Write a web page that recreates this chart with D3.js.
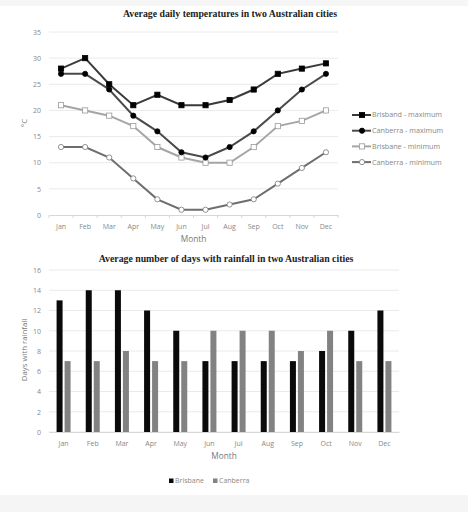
<!DOCTYPE html>
<html lang="en">
<head>
<meta charset="UTF-8">
<title>Australian cities</title>
<style>
    body { margin: 0; background: #fff; }
    text { font-family: 'Open Sans', sans-serif; fill: #777; }
    .title { font-family: 'Liberation Serif', serif; font-weight: bold; font-size: 9.8px; fill: #222; }
    .grid line { stroke: #e4e4e4; stroke-width: 0.8px; }
    .tick text { font-size: 7px; fill: #888; }
</style>
</head>
<body>
<script src="https://d3js.org/d3.v7.min.js"></script>
<script>

const months = ['Jan', 'Feb', 'Mar', 'Apr', 'May', 'Jun', 'Jul', 'Aug', 'Sep', 'Oct', 'Nov', 'Dec'];

const brisbaneMax = [28, 30, 25, 21, 23, 21, 21, 22, 24, 27, 28, 29];
const canberraMax = [27, 27, 24, 19, 16, 12, 11, 13, 16, 20, 24, 27];
const brisbaneMin = [21, 20, 19, 17, 13, 11, 10, 10, 13, 17, 18, 20];
const canberraMin = [13, 13, 11, 7, 3, 1, 1, 2, 3, 6, 9, 12];
const tempTicks = [0, 5, 10, 15, 20, 25, 30, 35];

const brisbaneRain = [13, 14, 14, 12, 10, 7, 7, 7, 7, 8, 10, 12];
const canberraRain = [7, 7, 8, 7, 7, 10, 10, 10, 8, 10, 7, 7];
const rainTicks = [0, 2, 4, 6, 8, 10, 12, 14, 16];

const lineSeries = [
    {name: 'Brisband - maximum', values: brisbaneMax, line: '#3a3a3a', fill: '#000', stroke: '#000', shape: 'square'},
    {name: 'Canberra - maximum', values: canberraMax, line: '#4a4a4a', fill: '#000', stroke: '#000', shape: 'circle'},
    {name: 'Brisbane - minimum', values: brisbaneMin, line: '#a5a5a5', fill: '#fff', stroke: '#999', shape: 'square'},
    {name: 'Canberra - minimum', values: canberraMin, line: '#6e6e6e', fill: '#fff', stroke: '#777', shape: 'circle'}
];
const barSeries = [
    {name: 'Brisbane', values: brisbaneRain, color: '#0a0a0a'},
    {name: 'Canberra', values: canberraRain, color: '#828282'}
];

const svg = d3.select('body').append('svg')
    .attr('width', 468)
    .attr('height', 512);

// faint grey edges of the scan
svg.append('rect').attr('x', 0).attr('y', 0).attr('width', 468).attr('height', 6).style('fill', '#f6f6f6');
svg.append('rect').attr('x', 0).attr('y', 495).attr('width', 468).attr('height', 17).style('fill', '#f5f5f5');

// ---------- temperature line chart ----------
const tempBox = {left: 49, right: 338, top: 32, bottom: 215};

const x1 = d3.scaleBand().domain(months).range([tempBox.left, tempBox.right]);
const y1 = d3.scaleLinear().domain([0, 35]).range([tempBox.bottom, tempBox.top]);

svg.append('text').attr('class', 'title')
    .attr('x', 230).attr('y', 17)
    .attr('text-anchor', 'middle')
    .text('Average daily temperatures in two Australian cities');

svg.append('g').attr('class', 'grid')
    .selectAll('line')
    .data(tempTicks.slice(1))
    .join('line')
    .attr('x1', tempBox.left).attr('x2', tempBox.right)
    .attr('y1', d => y1(d)).attr('y2', d => y1(d));

let yAxis1 = svg.append('g')
    .attr('transform', 'translate(' + (tempBox.left - 4) + ',0)')
    .call(d3.axisLeft(y1).tickValues(tempTicks).tickSize(0).tickPadding(4));
yAxis1.select('.domain').remove();

let xAxis1 = svg.append('g')
    .attr('transform', 'translate(0,' + tempBox.bottom + ')')
    .call(d3.axisBottom(x1).tickSize(0).tickPadding(9));
xAxis1.select('.domain').style('stroke', '#d8d8d8');

// small tick marks between categories
svg.append('g').selectAll('line')
    .data(d3.range(13))
    .join('line')
    .attr('x1', i => tempBox.left + i * x1.step())
    .attr('x2', i => tempBox.left + i * x1.step())
    .attr('y1', tempBox.bottom).attr('y2', tempBox.bottom + 3)
    .style('stroke', '#d8d8d8');

svg.append('text')
    .attr('x', (tempBox.left + tempBox.right) / 2).attr('y', 242)
    .attr('text-anchor', 'middle')
    .style('font-size', '8.3px')
    .text('Month');

svg.append('text')
    .attr('transform', 'translate(27,123) rotate(-90)')
    .attr('text-anchor', 'middle')
    .style('font-size', '8px')
    .text('°C');

const line = d3.line()
    .x((d, i) => x1(months[i]) + x1.bandwidth() / 2)
    .y(d => y1(d));

function drawMarker(g, s, cx, cy) {
    if (s.shape === 'square') {
        let r = 2.6;
        g.append('rect')
            .attr('x', cx - r).attr('y', cy - r)
            .attr('width', 2 * r).attr('height', 2 * r)
            .style('fill', s.fill).style('stroke', s.stroke).style('stroke-width', 0.8);
    } else {
        g.append('circle')
            .attr('cx', cx).attr('cy', cy).attr('r', 2.6)
            .style('fill', s.fill).style('stroke', s.stroke).style('stroke-width', 0.8);
    }
}

// draw minimum first so the maximum lines sit on top
for (let k = lineSeries.length - 1; k >= 0; k--) {
    let s = lineSeries[k];
    let g = svg.append('g');
    g.append('path')
        .datum(s.values)
        .attr('d', line)
        .style('fill', 'none')
        .style('stroke', s.line)
        .style('stroke-width', 2);
    s.values.forEach((v, i) => drawMarker(g, s, x1(months[i]) + x1.bandwidth() / 2, y1(v)));
}

// legend
const legend = svg.append('g').attr('transform', 'translate(352,115)');
lineSeries.forEach((s, i) => {
    let g = legend.append('g').attr('transform', 'translate(0,' + (i * 15.7) + ')');
    g.append('line')
        .attr('x1', 0).attr('x2', 19).attr('y1', 0).attr('y2', 0)
        .style('stroke', s.line).style('stroke-width', 2);
    drawMarker(g, s, 10, 0);
    g.append('text')
        .attr('x', 20).attr('y', 2.4)
        .style('font-size', '7.2px')
        .style('fill', '#888')
        .text(s.name);
});

// ---------- rainfall bar chart ----------
const rainBox = {left: 49, right: 399, top: 270, bottom: 432};

const x2 = d3.scaleBand().domain(months).range([rainBox.left, rainBox.right]);
const y2 = d3.scaleLinear().domain([0, 16]).range([rainBox.bottom, rainBox.top]);

svg.append('text').attr('class', 'title')
    .attr('x', 226).attr('y', 262)
    .attr('text-anchor', 'middle')
    .text('Average number of days with rainfall in two Australian cities');

svg.append('g').attr('class', 'grid')
    .selectAll('line')
    .data(rainTicks)
    .join('line')
    .attr('x1', rainBox.left).attr('x2', rainBox.right)
    .attr('y1', d => y2(d)).attr('y2', d => y2(d));

let yAxis2 = svg.append('g')
    .attr('transform', 'translate(' + (rainBox.left - 4) + ',0)')
    .call(d3.axisLeft(y2).tickValues(rainTicks).tickSize(0).tickPadding(4));
yAxis2.select('.domain').remove();

let xAxis2 = svg.append('g')
    .attr('transform', 'translate(0,' + rainBox.bottom + ')')
    .call(d3.axisBottom(x2).tickSize(0).tickPadding(9));
xAxis2.select('.domain').style('stroke', '#d8d8d8');

svg.append('text')
    .attr('x', 224).attr('y', 459)
    .attr('text-anchor', 'middle')
    .style('font-size', '8.3px')
    .text('Month');

svg.append('text')
    .attr('transform', 'translate(27,350) rotate(-90)')
    .attr('text-anchor', 'middle')
    .style('font-size', '7.8px')
    .text('Days with rainfall');

const barW = 6;
barSeries.forEach((s, k) => {
    svg.append('g').selectAll('rect')
        .data(s.values)
        .join('rect')
        .attr('x', (d, i) => x2(months[i]) + x2.bandwidth() / 2 - barW - 1 + k * (barW + 2))
        .attr('y', d => y2(d))
        .attr('width', barW)
        .attr('height', d => y2(0) - y2(d))
        .style('fill', s.color);
});

const legend2 = svg.append('g').attr('transform', 'translate(169,481)');
barSeries.forEach((s, i) => {
    let g = legend2.append('g').attr('transform', 'translate(' + (i * 44) + ',0)');
    g.append('rect')
        .attr('x', 0).attr('y', -2.5).attr('width', 4.5).attr('height', 4.5)
        .style('fill', s.color);
    g.append('text')
        .attr('x', 6).attr('y', 2.4)
        .style('font-size', '7px')
        .style('fill', '#888')
        .text(s.name);
});

</script>
</body>
</html>
